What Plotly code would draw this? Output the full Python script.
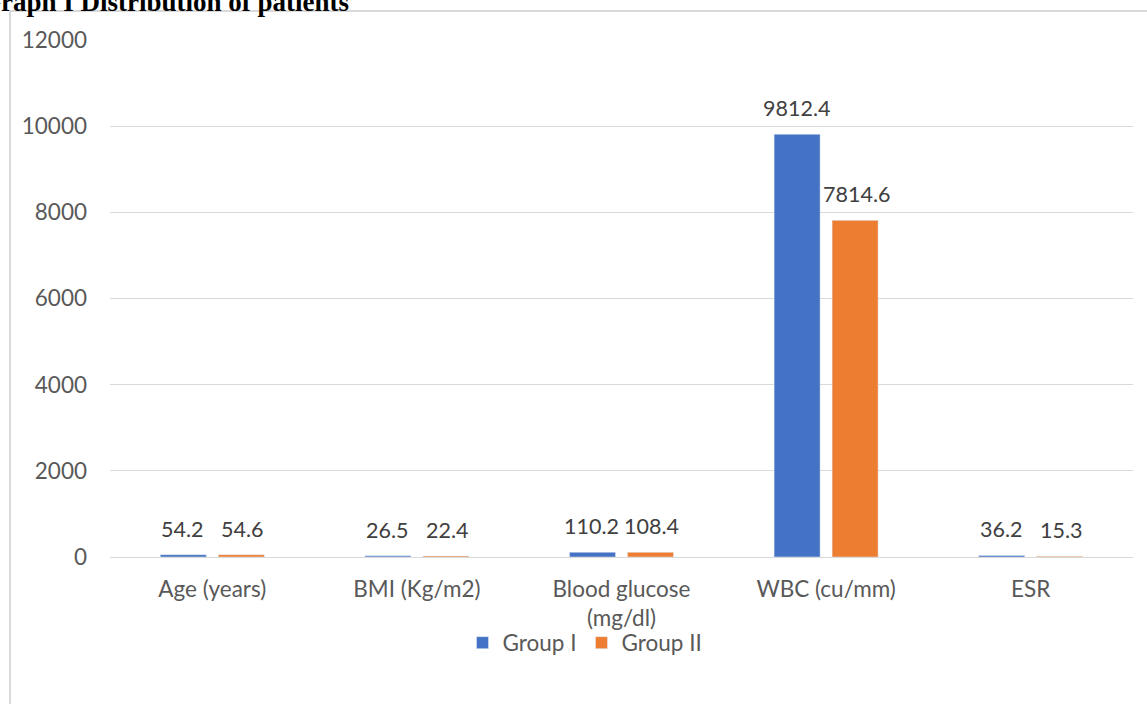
import plotly.graph_objects as go

# Patient characteristics by group
categories = ["Age (years)", "BMI (Kg/m2)", "Blood glucose<br>(mg/dl)", "WBC (cu/mm)", "ESR"]
group_1 = [54.2, 26.5, 110.2, 9812.4, 36.2]
group_2 = [54.6, 22.4, 108.4, 7814.6, 15.3]
y_ticks = [0, 2000, 4000, 6000, 8000, 10000, 12000]

BLUE = "#4472C4"
ORANGE = "#ED7D31"
GRID = "#D9D9D9"
FONT = "Lato, Carlito, Calibri, sans-serif"
FS = 22.5

W, H = 1147, 704
ML, MR, MT, MB = 110, 14, 40, 147
PW, PH = W - ML - MR, H - MT - MB


def px_x(p):
    return (p - ML) / PW


def px_y(p):
    return (H - MB - p) / PH


fig = go.Figure()
fig.add_trace(go.Bar(name="Group I", x=categories, y=group_1, marker_color=BLUE))
fig.add_trace(go.Bar(name="Group II", x=categories, y=group_2, marker_color=ORANGE))

annotations = []
for cat, v1, v2 in zip(categories, group_1, group_2):
    for val, shift in ((v1, -30), (v2, 30)):
        annotations.append(dict(
            x=cat, y=val, xref="x", yref="y", text=f"{val}",
            showarrow=False, xshift=shift, yshift=11, yanchor="bottom",
            font=dict(family=FONT, size=21.5, color="#404040"),
        ))

annotations.append(dict(
    x=px_x(-22), y=px_y(19), xref="paper", yref="paper", xanchor="left", yanchor="bottom",
    text="<b>Graph I Distribution of patients</b>", showarrow=False,
    font=dict(family="Liberation Serif, Times New Roman, serif", size=27, color="#000000"),
))

fig.update_layout(
    width=W, height=H,
    margin=dict(l=ML, r=MR, t=MT, b=MB, pad=0),
    paper_bgcolor="white", plot_bgcolor="white",
    barmode="group", bargap=0.433, bargroupgap=0.207,
    font=dict(family=FONT, size=FS, color="#595959"),
    showlegend=True,
    legend=dict(orientation="h", x=px_x(585), xanchor="center", y=px_y(643), yanchor="middle",
                bgcolor="rgba(0,0,0,0)",
                font=dict(family=FONT, size=FS, color="#595959"), traceorder="normal"),
    annotations=annotations,
    shapes=[dict(type="rect", xref="paper", yref="paper",
                 x0=px_x(10), x1=px_x(1160), y0=px_y(720), y1=px_y(11),
                 line=dict(color=GRID, width=2), fillcolor="rgba(0,0,0,0)", layer="below")],
)
fig.update_xaxes(showgrid=False, showline=True, linecolor=GRID, linewidth=1,
                 ticks="", ticklabelstandoff=12, tickfont=dict(size=FS, color="#595959"))
fig.update_yaxes(range=[0, 12000], tickvals=y_ticks, tickformat="d",
                 showgrid=True, gridcolor=GRID, gridwidth=1,
                 zeroline=True, zerolinecolor=GRID, zerolinewidth=1, showline=False,
                 ticks="", ticklabelstandoff=22, tickfont=dict(size=FS, color="#595959"))

fig.write_html("out.html")
